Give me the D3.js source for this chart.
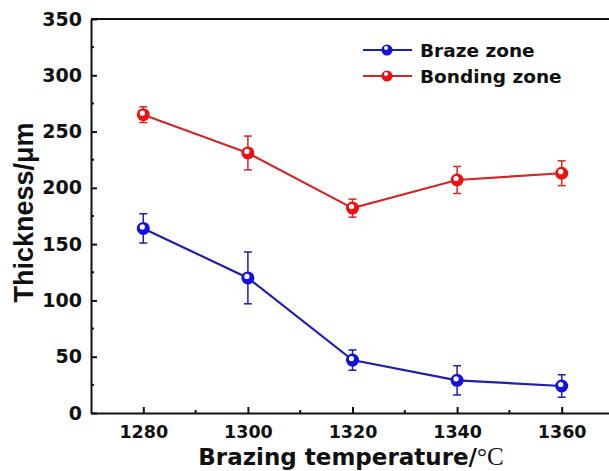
<!DOCTYPE html>
<html><head><meta charset="utf-8">
<script src="https://cdn.jsdelivr.net/npm/d3@7"></script>
<style>body{margin:0;background:#fff}svg{display:block}text{font-family:"DejaVu Sans",sans-serif;font-weight:bold;fill:#111}</style>
</head><body>
<script>
const temps = [1280, 1300, 1320, 1340, 1360];
const brazeZone = [164, 120, 47, 29, 24];
const brazeErr = [13, 23, 9, 13, 10];
const bondingZone = [265, 231, 182, 207, 213];
const bondingErr = [7, 15, 8, 12, 11];
const yTicks = [0, 50, 100, 150, 200, 250, 300, 350];
const xTicks = [1280, 1300, 1320, 1340, 1360];
const seriesNames = ["Braze zone", "Bonding zone"];

const W = 609, H = 471;
const svg = d3.select("body").append("svg").attr("width", W).attr("height", H);
const x = d3.scaleLinear().domain([1270, 1370]).range([91, 614]);
const y = d3.scaleLinear().domain([0, 350]).range([413, 19]);

const series = [
  {name: seriesNames[0], vals: brazeZone, err: brazeErr, line: "#1f1fa8", mark: "#1010e0"},
  {name: seriesNames[1], vals: bondingZone, err: bondingErr, line: "#cc2a2a", mark: "#ee1111"}
];

// frame
svg.append("line").attr("x1", 91).attr("x2", W).attr("y1", 19).attr("y2", 19).attr("stroke", "#111").attr("stroke-width", 2);

// axes
const yAxis = d3.axisLeft(y).tickValues(yTicks).tickFormat(d3.format("d")).tickSizeInner(-6).tickSizeOuter(0).tickPadding(9);
const gy = svg.append("g").attr("transform", "translate(91,0)").call(yAxis);
const xAxis = d3.axisBottom(x).tickValues(xTicks).tickFormat(d3.format("d")).tickSizeInner(-6).tickSizeOuter(0).tickPadding(13);
const gx = svg.append("g").attr("transform", "translate(0,413)").call(xAxis);
[gy, gx].forEach(g => {
  g.select(".domain").attr("stroke", "#111").attr("stroke-width", 2);
  g.selectAll(".tick line").attr("stroke", "#111").attr("stroke-width", 2);
  g.selectAll(".tick text").attr("fill", "#111").style("font-family", "'DejaVu Sans',sans-serif").style("font-weight", "bold");
});
gy.selectAll(".tick text").style("font-size", "19px");
gx.selectAll(".tick text").style("font-size", "17.5px");
// minor ticks
const yMinor = d3.range(25, 350, 50);
svg.append("g").selectAll("line").data(yMinor).join("line")
  .attr("x1", 91).attr("x2", 94).attr("y1", d => y(d)).attr("y2", d => y(d)).attr("stroke", "#111").attr("stroke-width", 2);
const xMinor = [1290, 1310, 1330, 1350];
svg.append("g").selectAll("line").data(xMinor).join("line")
  .attr("x1", d => x(d)).attr("x2", d => x(d)).attr("y1", 413).attr("y2", 410).attr("stroke", "#111").attr("stroke-width", 2);

// titles
svg.append("text").attr("transform", "translate(33,212.5) rotate(-90)").attr("text-anchor", "middle")
  .style("font-family", "'Liberation Sans',Arial,sans-serif").style("font-size", "27px").text("Thickness/μm");
const xt = svg.append("text").attr("x", 351).attr("y", 465).attr("text-anchor", "middle").style("font-size", "23px");
xt.append("tspan").text("Brazing temperature/");
xt.append("tspan").style("font-family", "'Liberation Serif','DejaVu Serif',serif").style("font-weight", "normal").style("font-size", "25px").text("°C");

// series
const lineGen = d3.line().x(d => x(d[0])).y(d => y(d[1]));
series.forEach(s => {
  const pts = temps.map((t, i) => [t, s.vals[i], s.err[i]]);
  svg.append("path").datum(pts).attr("d", lineGen).attr("fill", "none").attr("stroke", s.line).attr("stroke-width", 2.2);
  const g = svg.append("g");
  pts.forEach(p => {
    const cx = x(p[0]);
    g.append("line").attr("x1", cx).attr("x2", cx).attr("y1", y(p[1] + p[2])).attr("y2", y(p[1] - p[2])).attr("stroke", s.line).attr("stroke-width", 1.5);
    [p[1] + p[2], p[1] - p[2]].forEach(v => g.append("line").attr("x1", cx - 4).attr("x2", cx + 4).attr("y1", y(v)).attr("y2", y(v)).attr("stroke", s.line).attr("stroke-width", 1.5));
    g.append("circle").attr("cx", cx).attr("cy", y(p[1])).attr("r", 6.5).attr("fill", s.mark);
    g.append("circle").attr("cx", cx - 1).attr("cy", y(p[1]) - 1.5).attr("r", 2.6).attr("fill", "#fff");
  });
});

// legend
series.forEach((s, i) => {
  const ly = 50 + i * 26;
  svg.append("line").attr("x1", 363).attr("x2", 412).attr("y1", ly).attr("y2", ly).attr("stroke", s.line).attr("stroke-width", 2.2);
  svg.append("circle").attr("cx", 387).attr("cy", ly).attr("r", 5.5).attr("fill", s.mark);
  svg.append("circle").attr("cx", 386).attr("cy", ly - 2).attr("r", 2).attr("fill", "#fff");
  svg.append("text").attr("x", 420).attr("y", ly + 6.5).style("font-size", "18.5px").text(s.name);
});
</script>
</body></html>
